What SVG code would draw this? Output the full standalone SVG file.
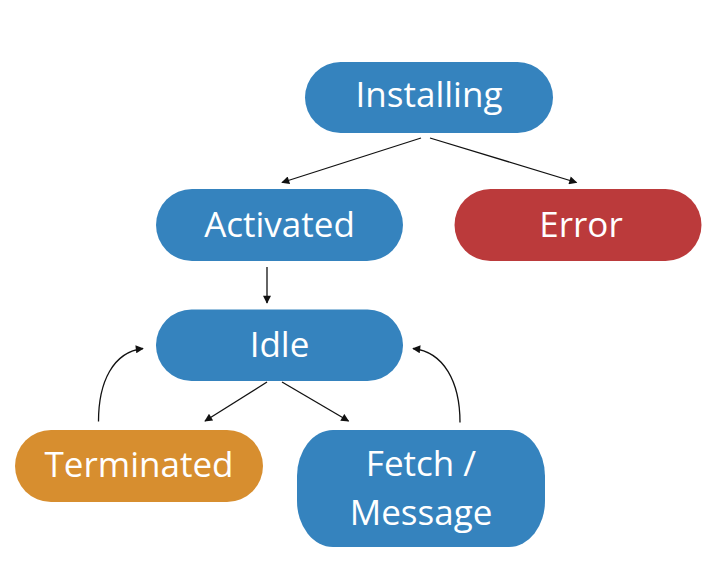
<svg xmlns="http://www.w3.org/2000/svg" width="712" height="572" viewBox="0 0 712 572">
<defs>
<style>
.lbl{font-family:"Open Sans","Noto Sans","Liberation Sans",sans-serif;font-size:35px;fill:#ffffff;text-anchor:middle}
.blue{fill:#3583be}
.red{fill:#bb3a3b}
.orange{fill:#d78e2f}
.edge{fill:none;stroke:#111111;stroke-width:1.3;marker-end:url(#ah)}
</style>
<marker id="ah" viewBox="0 0 10 10" refX="9" refY="5" markerWidth="9" markerHeight="8" markerUnits="userSpaceOnUse" orient="auto">
<path d="M0,0 L10,5 L0,10 Z" fill="#111111"/>
</marker>
</defs>
<rect width="712" height="572" fill="#ffffff"/>
<g id="connectors">
<path class="edge" d="M421,138 L282,182.5"/>
<path class="edge" d="M430,138 L576.5,182.5"/>
<path class="edge" d="M267,267 L267,303"/>
<path class="edge" d="M267,382 L205,421"/>
<path class="edge" d="M282,382 L348.5,421"/>
<path class="edge" d="M98.5,421.5 C98.5,382 113,352 143,348.5"/>
<path class="edge" d="M460,422.5 C460,382 444,352 413,348.5"/>
</g>
<g id="installing">
<rect class="blue" x="305" y="62" width="248" height="71" rx="35.5"/>
<text class="lbl" x="429" y="107">Installing</text>
</g>
<g id="activated">
<rect class="blue" x="156" y="189" width="247" height="72" rx="36"/>
<text class="lbl" x="279.5" y="237">Activated</text>
</g>
<g id="error">
<rect class="red" x="454.5" y="189" width="247" height="72" rx="36"/>
<text class="lbl" x="581" y="237">Error</text>
</g>
<g id="idle">
<rect class="blue" x="156" y="309.5" width="247" height="71.5" rx="35.5"/>
<text class="lbl" x="279.5" y="357">Idle</text>
</g>
<g id="terminated">
<rect class="orange" x="15" y="430" width="248" height="72" rx="36"/>
<text class="lbl" x="139" y="477">Terminated</text>
</g>
<g id="fetch">
<rect class="blue" x="297" y="430" width="248" height="117" rx="36" ry="46"/>
<text class="lbl" x="421" y="476">Fetch /</text>
<text class="lbl" x="421" y="525">Message</text>
</g>
</svg>
